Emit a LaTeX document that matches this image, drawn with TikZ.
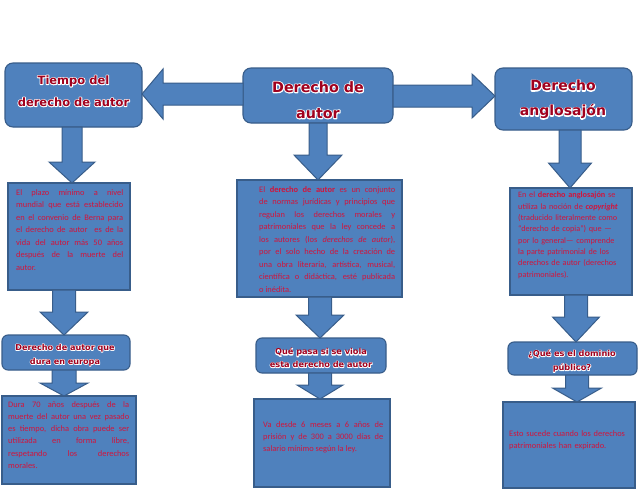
\documentclass[tikz,border=0pt]{standalone}
\usepackage{fontspec}
\setmainfont{Carlito}
\newfontfamily\titlefont{DejaVu Sans}
\usetikzlibrary{calc}
\definecolor{boxblue}{HTML}{4F81BD}
\definecolor{boxedge}{HTML}{385D8A}
\definecolor{titlered}{HTML}{A0001E}
\definecolor{bodyred}{HTML}{D2143C}
\tikzset{
  panel/.style={draw=boxedge, fill=boxblue, line width=1.1pt, inner sep=0pt, outer sep=0pt},
  roundpanel/.style={panel, rounded corners=8pt},
  smallround/.style={panel, rounded corners=6pt},
  blockarrow/.style={draw=boxedge, fill=boxblue, line width=1pt, line join=miter},
  titletext/.style={font=\titlefont\bfseries, text=titlered, align=center, inner sep=0pt},
  bodytext/.style={text=bodyred, inner sep=0pt, anchor=north west},
}
% box node from pixel corners
\newcommand\panelat[6]{\node[#6, minimum width={#4-#2}, minimum height={#5-#3}] (#1) at ({(#2+#4)/2},{(#3+#5)/2}) {};}
% downward block arrow: from node, to node, x centre, shaft half, head half, head length
\newcommand\vblock[6]{%
  \path[blockarrow] let \p1=(#1.south), \p2=(#2.north) in
  ({#3pt-#4pt},\y1) -- ({#3pt+#4pt},\y1) -- ({#3pt+#4pt},{\y2+#6pt}) -- ({#3pt+#5pt},{\y2+#6pt})
  -- ({#3pt},\y2) -- ({#3pt-#5pt},{\y2+#6pt}) -- ({#3pt-#4pt},{\y2+#6pt}) -- cycle;}
% horizontal block arrow: from anchor, to anchor, y centre, shaft half, head half, head length, sign
\newcommand\hblock[7]{%
  \path[blockarrow] let \p1=(#1), \p2=(#2) in
  (\x1,{-#3pt+#4pt}) -- ({\x2#7#6pt},{-#3pt+#4pt}) -- ({\x2#7#6pt},{-#3pt+#5pt}) -- (\x2,{-#3pt})
  -- ({\x2#7#6pt},{-#3pt-#5pt}) -- ({\x2#7#6pt},{-#3pt-#4pt}) -- (\x1,{-#3pt-#4pt}) -- cycle;}
% outlined title text: a white stroked copy behind the red text
\newcommand\ct[2][1.7]{\rlap{\special{pdf:literal direct 1 Tr #1 w 1 j 1 1 1 RG}#2\special{pdf:literal direct 0 Tr}}#2}
\begin{document}
\begin{tikzpicture}[x=1pt,y=-1pt]
\useasboundingbox (0,0) rectangle (638,493);
\fill[white] (0,0) rectangle (638,493);

% boxes
\panelat{T1}{5}{63}{142}{127}{roundpanel}
\panelat{M1}{243}{68}{393}{123}{roundpanel}
\panelat{R1}{495}{68}{632}{130}{roundpanel}
\panelat{L1}{8}{183}{130}{290}{panel}
\panelat{M2}{237}{180}{402}{297}{panel}
\panelat{R2}{510}{188}{632}{295}{panel}
\panelat{L2}{2}{335}{130}{370}{smallround}
\panelat{M3}{256}{338}{386}{373}{smallround}
\panelat{R3}{508}{342}{637}{375}{smallround}
\panelat{L3}{2}{396}{136}{484}{panel}
\panelat{M4}{254}{399}{390}{487}{panel}
\panelat{R4}{503}{402}{635}{488}{panel}

% arrows
\hblock{M1.west}{T1.east}{94}{11}{25}{21}{+}
\hblock{M1.east}{R1.west}{96}{11}{22}{23}{-}
\vblock{T1}{L1}{72}{10}{23}{21}
\vblock{L1}{L2}{64}{11.5}{24}{23}
\vblock{L2}{L3}{64}{12}{24}{13}
\vblock{M1}{M2}{318}{9}{24}{25}
\vblock{M2}{M3}{320}{11.5}{24}{23}
\vblock{M3}{M4}{320}{11.5}{23}{14}
\vblock{R1}{R2}{570}{11}{21.5}{25}
\vblock{R2}{R3}{576}{11.5}{23.5}{25}
\vblock{R3}{R4}{577}{11.5}{24.5}{14}

% titles
\node[titletext, font=\titlefont\bfseries\fontsize{11.5}{22}\selectfont] (T1t) at (73.5,91) {\ct{Tiempo del}\\\ct{derecho de autor}};
\node[titletext, font=\titlefont\bfseries\fontsize{14.3}{26}\selectfont] (M1t) at (318,100) {\ct[2]{Derecho de}\\\ct[2]{autor}};
\node[titletext, font=\titlefont\bfseries\fontsize{14}{25}\selectfont] (R1t) at (563,99.5) {\ct[2]{Derecho}\\\ct[2]{anglosajón}};
\node[titletext, font=\titlefont\bfseries\fontsize{8.1}{14}\selectfont] (L2t) at (65,355) {\ct[1.3]{Derecho de autor que}\\\ct[1.3]{dura en europa}};
\node[titletext, font=\titlefont\bfseries\fontsize{8.2}{12.5}\selectfont] (M3t) at (321,358) {\ct[1.3]{Qué pasa si se viola}\\\ct[1.3]{esta derecho de autor}};
\node[titletext, font=\titlefont\bfseries\fontsize{8.2}{14}\selectfont] (R3t) at (572,361) {\ct[1.3]{¿Qué es el dominio}\\\ct[1.3]{público?}};

% body texts
\node[bodytext, text width=107pt, align=justify, font=\fontsize{8.4}{12.5}\selectfont] (L1t) at (16,189)
  {El plazo mínimo a nivel\linebreak mundial que está establecido\linebreak en el convenio de Berna para\linebreak el derecho de autor\ \ es de la\linebreak vida del autor más 50 años\linebreak después de la muerte del\linebreak autor.};
\node[bodytext, text width=136pt, align=justify, font=\fontsize{8.4}{12.5}\selectfont] (M2t) at (259,186)
  {El \textbf{derecho de autor} es un conjunto\linebreak de normas jurídicas y principios que\linebreak regulan los derechos morales y\linebreak patrimoniales que la ley concede a\linebreak los autores (los \textit{derechos de autor}),\linebreak por el solo hecho de la creación de\linebreak una obra literaria, artística, musical,\linebreak científica o didáctica, esté publicada\linebreak o inédita.};
\node[bodytext, text width=112pt, align=left, font=\fontsize{8.2}{11.3}\selectfont] (R2t) at (518,192)
  {En el \textbf{derecho anglosajón} se\\utiliza la noción de \textbf{\textit{copyright}}\\(traducido literalmente como\\“derecho de copia”) que —\\por lo general— comprende\\la parte patrimonial de los\\derechos de autor (derechos\\patrimoniales).};
\node[bodytext, text width=121pt, align=justify, font=\fontsize{8.4}{12.3}\selectfont] (L3t) at (8,401)
  {Dura 70 años después de la\linebreak muerte del autor una vez pasado\linebreak es tiempo, dicha obra puede ser\linebreak utilizada en forma libre,\linebreak respetando los derechos\linebreak morales.};
\node[bodytext, text width=120pt, align=justify, font=\fontsize{8.4}{12.3}\selectfont] (M4t) at (263,421)
  {Va desde 6 meses a 6 años de\linebreak prisión y de 300 a 3000 días de\linebreak salario mínimo según la ley.};
\node[bodytext, text width=125pt, align=left, font=\fontsize{8.4}{12.3}\selectfont] (R4t) at (509,430)
  {Esto sucede cuando los derechos\\patrimoniales han expirado.};
\end{tikzpicture}
\end{document}
